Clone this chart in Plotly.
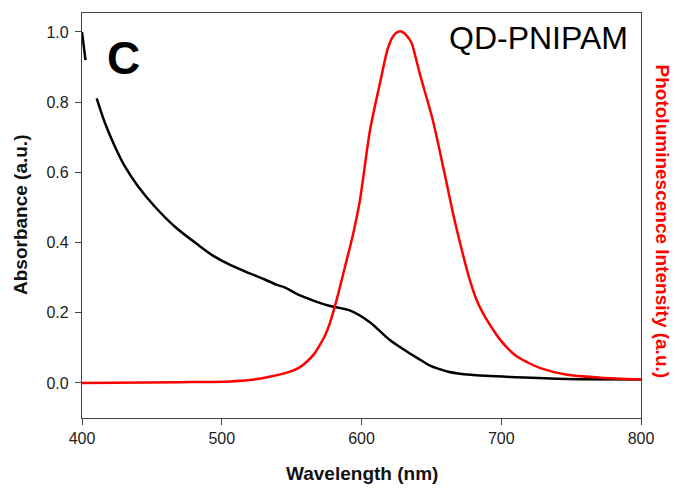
import plotly.graph_objects as go

# Absorbance (black)
abs_x = [410.5, 416.5, 423.6, 430.8, 440.3, 452.2, 466.5, 483.2, 494, 506, 520, 530, 539, 545, 554, 568, 577.5,
         592, 606, 620, 635, 642, 649, 656, 662, 678, 711, 747, 800]
abs_y = [0.811, 0.740, 0.673, 0.616, 0.559, 0.502, 0.445, 0.393, 0.362, 0.336, 0.312, 0.296, 0.280,
         0.272, 0.253, 0.231, 0.219, 0.206, 0.173, 0.123, 0.083, 0.066, 0.049, 0.039, 0.032, 0.023,
         0.016, 0.011, 0.010]
# Off-scale fragment at the start of the absorbance curve
abs_edge_x = [400, 401, 402.5]
abs_edge_y = [1.00, 0.97, 0.92]

# Photoluminescence (red)
pl_x = [400, 470, 506, 520, 535, 549, 556, 561, 566, 570, 574, 577.5, 582.3, 588.2, 594.1, 598.9, 606, 613,
        619, 623, 626, 628, 632, 636, 638, 642, 651, 659, 666, 672, 677, 682, 687, 692, 699, 705, 711, 720,
        728, 747, 771, 800]
pl_y = [0.000, 0.002, 0.004, 0.008, 0.018, 0.032, 0.045, 0.061, 0.082, 0.107, 0.136, 0.172, 0.238, 0.331,
        0.426, 0.521, 0.718, 0.850, 0.955, 0.990, 1.000, 1.002, 0.991, 0.967, 0.939, 0.877, 0.749, 0.605,
        0.474, 0.375, 0.300, 0.240, 0.198, 0.165, 0.124, 0.097, 0.076, 0.056, 0.042, 0.023, 0.015, 0.010]

x_ticks = [400, 500, 600, 700, 800]
y_ticks = [0.0, 0.2, 0.4, 0.6, 0.8, 1.0]

FONT = "Liberation Sans, Arial, sans-serif"
AX = "#444444"
TICKC = "#222222"

fig = go.Figure()
fig.add_trace(go.Scatter(x=abs_edge_x, y=abs_edge_y, mode="lines", line=dict(color="black", width=2.5),
                         showlegend=False))
fig.add_trace(go.Scatter(x=abs_x, y=abs_y, mode="lines",
                         line=dict(color="black", width=2.5, shape="spline", smoothing=0.8),
                         showlegend=False))
fig.add_trace(go.Scatter(x=pl_x, y=pl_y, mode="lines",
                         line=dict(color="#ff0000", width=2.5, shape="spline", smoothing=0.8),
                         showlegend=False, yaxis="y2"))

yr = [-0.1, 1.054]
fig.update_layout(
    width=676, height=489,
    margin=dict(l=82, r=35, t=13, b=71),
    paper_bgcolor="white", plot_bgcolor="white",
    font=dict(family=FONT, color=TICKC, size=16),
    xaxis=dict(range=[400, 800], tickvals=x_ticks, ticks="outside", ticklen=6, tickcolor=AX,
               showline=True, linecolor=AX, linewidth=1.3, mirror=True, showgrid=False, zeroline=False,
               tickfont=dict(size=16, color=TICKC)),
    yaxis=dict(range=yr, tickvals=y_ticks, tickformat=".1f", ticks="outside", ticklen=6, tickcolor=AX,
               showline=True, linecolor=AX, linewidth=1.3, mirror=True, showgrid=False, zeroline=False,
               tickfont=dict(size=16, color=TICKC), ticklabelstandoff=3),
    yaxis2=dict(range=yr, overlaying="y", side="right", showticklabels=False, ticks="",
                showgrid=False, zeroline=False, showline=False),
    annotations=[
        dict(text="<b>Wavelength (nm)</b>", xref="paper", yref="paper", x=0.5, y=-0.138,
             xanchor="center", yanchor="middle", showarrow=False, font=dict(size=19, color="#111111")),
        dict(text="<b>Absorbance (a.u.)</b>", xref="paper", yref="paper", x=-0.110, y=0.5,
             xanchor="center", yanchor="middle", textangle=-90, showarrow=False,
             font=dict(size=19, color="#111111")),
        dict(text="<b>Photoluminescence Intensity (a.u.)</b>", xref="paper", yref="paper", x=1.0376,
             y=0.485, xanchor="center", yanchor="middle", textangle=90, showarrow=False,
             font=dict(size=19, color="#ff0000")),
        dict(text="<b>C</b>", xref="paper", yref="paper", x=(123 - 82) / 559, y=(418 - 58) / 405,
             xanchor="center", yanchor="middle", showarrow=False, font=dict(size=46, color="black")),
        dict(text="QD-PNIPAM", xref="paper", yref="paper", x=(538 - 82) / 559, y=(418 - 38) / 405,
             xanchor="center", yanchor="middle", showarrow=False, font=dict(size=32, color="black")),
    ],
)

fig.write_html("out.html", config={"displayModeBar": False},
               post_script="document.body.style.margin='0';")
